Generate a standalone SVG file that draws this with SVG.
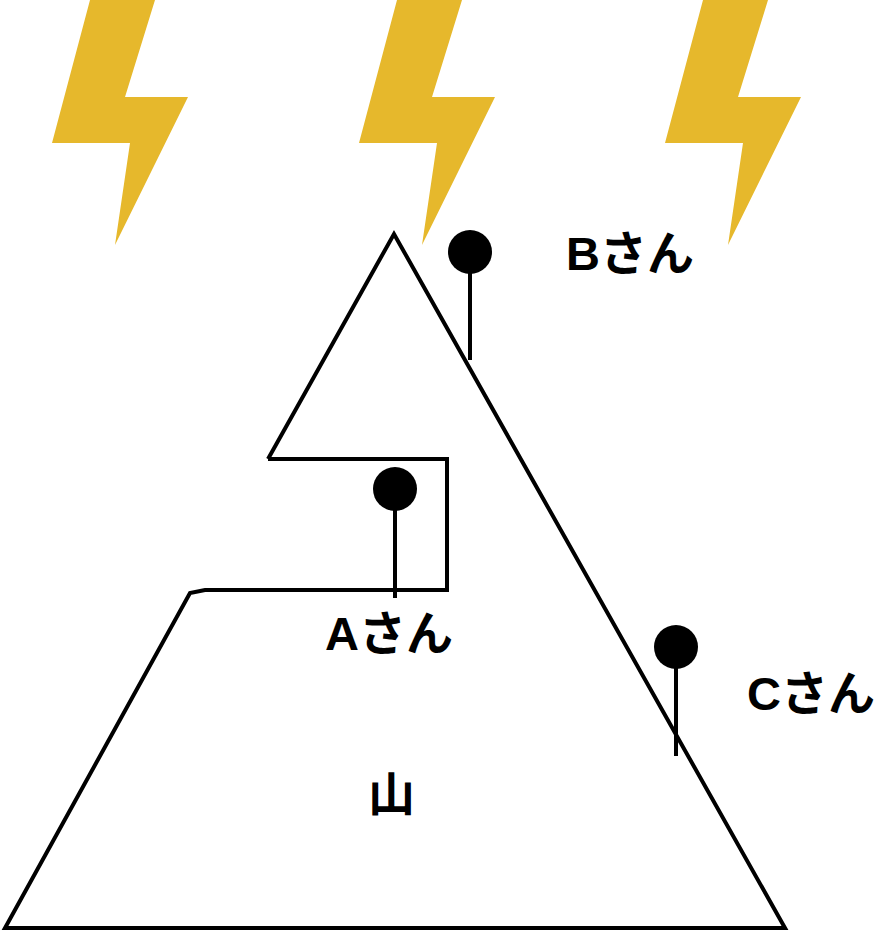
<svg xmlns="http://www.w3.org/2000/svg" width="885" height="933" viewBox="0 0 885 933">
<style>
.bolt{fill:#e6b82c}
.ln{fill:none;stroke:#000;stroke-width:4}
.t{font-family:"Liberation Sans","Noto Sans CJK JP",sans-serif;font-size:47px;font-weight:bold;fill:#000}
</style>
<rect width="885" height="933" fill="#fff"/>
<g id="bolts">
<polygon id="bolt1" class="bolt" points="90,0 155,0 125,97 188,97 115,245 130,143 52,143"/>
<polygon id="bolt2" class="bolt" transform="translate(307,0)" points="90,0 155,0 125,97 188,97 115,245 130,143 52,143"/>
<polygon id="bolt3" class="bolt" transform="translate(613,0)" points="90,0 155,0 125,97 188,97 115,245 130,143 52,143"/>
</g>
<g id="mountain">
<path class="ln" d="M268,459 L394,234 L785,928 L5,928 L190,593 L205,590 L447,590 L447,459 L268,459"/>
<text class="t" x="368" y="811">山</text>
</g>
<g id="personB">
<line class="ln" x1="470" y1="252" x2="470" y2="360"/>
<circle cx="470" cy="252" r="22"/>
<text class="t" x="566" y="270">Bさん</text>
</g>
<g id="personA">
<line class="ln" x1="395" y1="489" x2="395" y2="598"/>
<circle cx="395" cy="489" r="22"/>
<text class="t" x="325" y="650">Aさん</text>
</g>
<g id="personC">
<line class="ln" x1="676" y1="647" x2="676" y2="756"/>
<circle cx="676" cy="647" r="22"/>
<text class="t" x="747" y="710">Cさん</text>
</g>
</svg>
